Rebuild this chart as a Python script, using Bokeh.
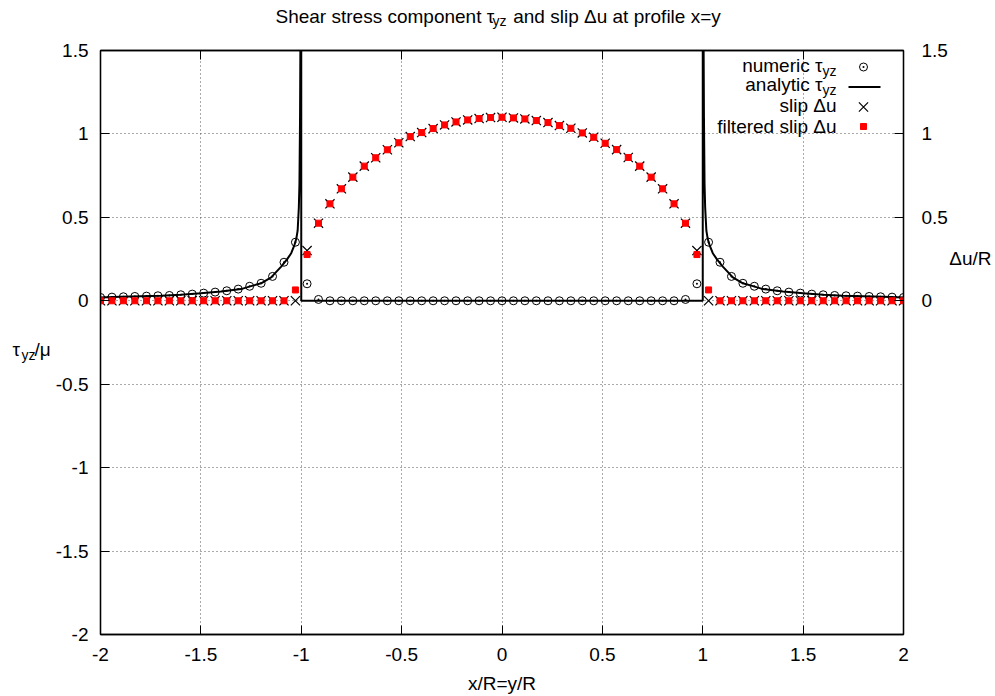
from bokeh.plotting import figure
from bokeh.models import LinearAxis, FixedTicker, Label, PrintfTickFormatter, CustomJSTickFormatter
from bokeh.embed import file_html
from bokeh.resources import INLINE

# ---------------- data ----------------
x_pos = [-2.000, -1.943, -1.886, -1.829, -1.771, -1.714, -1.657, -1.600, -1.543,
         -1.486, -1.429, -1.371, -1.314, -1.257, -1.200, -1.143, -1.086, -1.029,
         -0.971, -0.914, -0.857, -0.800, -0.743, -0.686, -0.629, -0.571, -0.514,
         -0.457, -0.400, -0.343, -0.286, -0.229, -0.171, -0.114, -0.057, 0.000,
         0.057, 0.114, 0.171, 0.229, 0.286, 0.343, 0.400, 0.457, 0.514,
         0.571, 0.629, 0.686, 0.743, 0.800, 0.857, 0.914, 0.971, 1.029,
         1.086, 1.143, 1.200, 1.257, 1.314, 1.371, 1.429, 1.486, 1.543,
         1.600, 1.657, 1.714, 1.771, 1.829, 1.886, 1.943, 2.000]

numeric_tau = [0.020, 0.022, 0.024, 0.026, 0.028, 0.030, 0.032, 0.036, 0.040,
               0.046, 0.052, 0.060, 0.070, 0.087, 0.105, 0.146, 0.231, 0.351,
               0.102, 0.008, 0.0, 0.0, 0.0, 0.0, 0.0, 0.0, 0.0,
               0.0, 0.0, 0.0, 0.0, 0.0, 0.0, 0.0, 0.0, 0.0,
               0.0, 0.0, 0.0, 0.0, 0.0, 0.0, 0.0, 0.0, 0.0,
               0.0, 0.0, 0.0, 0.0, 0.0, 0.0, 0.008, 0.102, 0.351,
               0.231, 0.146, 0.105, 0.087, 0.070, 0.060, 0.052, 0.046, 0.040,
               0.036, 0.032, 0.030, 0.028, 0.026, 0.024, 0.022, 0.020]

slip = [0.0, 0.0, 0.0, 0.0, 0.0, 0.0, 0.0, 0.0, 0.0,
        0.0, 0.0, 0.0, 0.0, 0.0, 0.0, 0.0, 0.0, 0.0,
        0.301, 0.465, 0.581, 0.671, 0.741, 0.807, 0.857, 0.905, 0.947,
        0.984, 1.008, 1.032, 1.054, 1.072, 1.084, 1.092, 1.098, 1.100,
        1.096, 1.090, 1.080, 1.068, 1.050, 1.034, 1.006, 0.980, 0.944,
        0.906, 0.859, 0.807, 0.741, 0.671, 0.581, 0.465, 0.301, 0.0,
        0.0, 0.0, 0.0, 0.0, 0.0, 0.0, 0.0, 0.0, 0.0,
        0.0, 0.0, 0.0, 0.0, 0.0, 0.0, 0.0, 0.0]

filtered_slip = [0.0, 0.0, 0.0, 0.0, 0.0, 0.0, 0.0, 0.0, 0.0,
                 0.0, 0.0, 0.0, 0.0, 0.0, 0.0, 0.0, 0.0, 0.065,
                 0.277, 0.465, 0.581, 0.671, 0.741, 0.807, 0.857, 0.905, 0.947,
                 0.984, 1.008, 1.032, 1.054, 1.072, 1.084, 1.092, 1.098, 1.100,
                 1.096, 1.090, 1.080, 1.068, 1.050, 1.034, 1.006, 0.980, 0.944,
                 0.906, 0.859, 0.807, 0.741, 0.671, 0.581, 0.465, 0.277, 0.065,
                 0.0, 0.0, 0.0, 0.0, 0.0, 0.0, 0.0, 0.0, 0.0,
                 0.0, 0.0, 0.0, 0.0, 0.0, 0.0, 0.0, 0.0]

analytic_x = [-2.0, -1.9, -1.8, -1.7, -1.6, -1.5, -1.4, -1.3, -1.25, -1.2, -1.15,
              -1.1, -1.07, -1.05, -1.035, -1.025, -1.018, -1.012, -1.009, -1.006,
              -1.004, -1.002, -1.0, -1.0, 1.0, 1.0, 1.002, 1.004, 1.006, 1.009,
              1.012, 1.018, 1.025, 1.035, 1.05, 1.07, 1.1, 1.15, 1.2, 1.25, 1.3,
              1.4, 1.5, 1.6, 1.7, 1.8, 1.9, 2.0]
analytic_tau = [0.020, 0.0235, 0.027, 0.0305, 0.036, 0.045, 0.056, 0.070, 0.088, 0.105, 0.14,
                0.205, 0.25, 0.285, 0.33, 0.37, 0.42, 0.56, 0.70, 1.1,
                1.6, 3.0, 3.0, 0.0, 0.0, 3.0, 3.0, 1.6, 1.1, 0.70,
                0.56, 0.42, 0.37, 0.33, 0.285, 0.25, 0.205, 0.14, 0.105, 0.088, 0.070,
                0.056, 0.045, 0.036, 0.0305, 0.027, 0.0235, 0.020]

x_ticks = [-2, -1.5, -1, -0.5, 0, 0.5, 1, 1.5, 2]
y_ticks = [-2, -1.5, -1, -0.5, 0, 0.5, 1, 1.5]
y2_ticks = [0, 0.5, 1, 1.5]
grid_x = [-1.5, -1, -0.5, 0, 0.5, 1, 1.5]
grid_y = [-1.5, -1, -0.5, 0, 0.5, 1]

FONT = "Liberation Sans"
FS = 19          # main text size, px
SS = 14          # subscript size, px
FL, FR, FT, FB = 100, 92, 50, 62     # borders round the frame, px
FW, FH = 803, 584                    # frame size, px

p = figure(frame_width=FW, frame_height=FH, x_range=(-2, 2), y_range=(-2, 1.5),
           output_backend="svg", toolbar_location=None,
           min_border_left=FL, min_border_right=FR,
           min_border_top=FT, min_border_bottom=FB,
           background_fill_color="white", border_fill_color="white")

p.outline_line_color = "black"
p.outline_line_width = 1.3

for g, t in ((p.xgrid, grid_x), (p.ygrid, grid_y)):
    g.ticker = FixedTicker(ticks=t)
    g.grid_line_color = "#555555"
    g.grid_line_dash = "1 3"
    g.grid_line_width = 1

def style_axis(ax, ticks, standoff):
    ax.ticker = FixedTicker(ticks=ticks)
    ax.formatter = PrintfTickFormatter(format="%g")
    ax.major_tick_in = 9
    ax.major_tick_out = 0
    ax.minor_tick_line_color = None
    ax.major_tick_line_color = "black"
    ax.major_tick_line_width = 1
    ax.axis_line_color = "black"
    ax.axis_line_width = 1.3
    ax.major_label_text_font = FONT
    ax.major_label_text_font_size = f"{FS}px"
    ax.major_label_text_color = "black"
    ax.major_label_standoff = standoff

style_axis(p.xaxis[0], x_ticks, 13)
style_axis(p.yaxis[0], y_ticks, 12)

right = LinearAxis()
style_axis(right, y2_ticks, 18)
p.add_layout(right, "right")

top = LinearAxis()
style_axis(top, x_ticks, 0)
top.major_label_text_font_size = "2px"
top.formatter = CustomJSTickFormatter(code="return ''")
p.add_layout(top, "above")

# ---------------- glyphs ----------------
p.line(analytic_x, analytic_tau, line_color="black", line_width=2)
p.scatter(x_pos, numeric_tau, marker="circle_dot", size=8, line_color="black",
          line_width=1, fill_color=None)
p.scatter(x_pos, slip, marker="x", size=13, line_color="black", line_width=1.2)
p.scatter(x_pos, filtered_slip, marker="square", size=6, line_color="red",
          fill_color="red", line_width=1)

# ---------------- texts (page pixels -> data coords) ----------------
def dx(px):
    return -2 + (px - FL) * 4.0 / FW
def dy(py):
    return 1.5 - (py - FT) * 3.5 / FH

def lab(text, px, py, size, align="left", place=None):
    l = Label(x=dx(px), y=dy(py), text=text, text_font=FONT,
              text_font_size=f"{size}px", text_align=align,
              text_baseline="alphabetic", text_color="black")
    if place is None:
        p.add_layout(l)
    else:
        p.add_layout(l, place)

# title (the gap of two en spaces holds the subscript)
lab("Shear stress component \u03c4\u2002\u2002and slip \u0394u at profile x=y", 275, 16, FS, "left", "above")
lab("yz", 492, 20, SS, "left", "left")

# axis labels
lab("x/R=y/R", 501.5, 683, FS, "center", "below")
lab("\u03c4", 12, 349, FS, "left", "left")
lab("yz", 21, 354, SS, "left", "left")
lab("/\u03bc", 34, 349, FS, "left", "left")
lab("\u0394u/R", 991, 258, FS, "right", "right")

# legend (drawn by hand so that subscripts can be shown)
lab("numeric \u03c4", 822, 65, FS, "right")
lab("yz", 822, 70, SS, "left")
lab("analytic \u03c4", 822, 84, FS, "right")
lab("yz", 822, 89, SS, "left")
lab("slip \u0394u", 836, 105, FS, "right")
lab("filtered slip \u0394u", 836, 126, FS, "right")

p.scatter([dx(863)], [dy(66.5)], marker="circle_dot", size=8, line_color="black",
          line_width=1, fill_color=None)
p.line([dx(848), dx(880)], [dy(86.5), dy(86.5)], line_color="black", line_width=2)
p.scatter([dx(863)], [dy(106.5)], marker="x", size=13, line_color="black", line_width=1.2)
p.scatter([dx(863)], [dy(126)], marker="square", size=6, line_color="red", fill_color="red")

open("out.html", "w").write(file_html(p, INLINE))
